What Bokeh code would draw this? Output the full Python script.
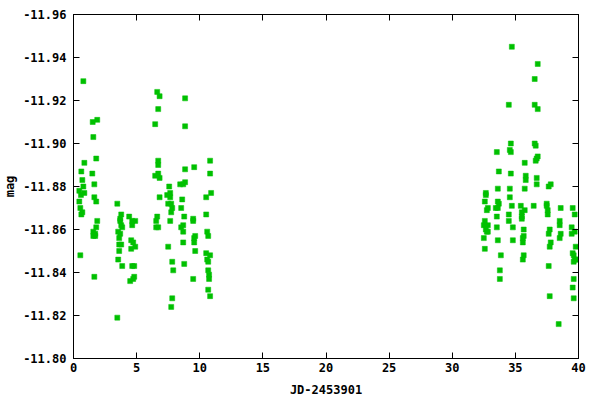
from bokeh.plotting import figure
from bokeh.models import Range1d, LinearAxis, FixedTicker, PrintfTickFormatter, ColumnDataSource
from bokeh.embed import file_html
from bokeh.resources import INLINE

# ---- data ----
jd_first = [0.78, 1.52, 1.88, 1.57, 1.80, 0.86, 0.62, 1.49, 0.70, 1.65, 0.78, 0.46, 0.86, 0.59,
            1.65, 0.46, 1.80, 0.54, 0.70, 0.62, 1.88, 1.80, 1.57, 1.72, 1.57, 1.72, 0.54, 1.65,
            3.47, 3.78, 3.70, 3.70, 3.78, 3.86, 3.54, 3.70, 3.62, 3.62, 3.78, 3.62, 3.54, 3.86, 3.47,
            4.41, 4.65, 4.89, 4.65, 4.57, 4.73, 4.89, 4.57, 4.65, 4.81, 4.81, 4.49, 4.73]
mag_first = [-11.929, -11.910, -11.911, -11.903, -11.893, -11.891, -11.887, -11.886, -11.883, -11.881,
             -11.880, -11.878, -11.877, -11.876, -11.875, -11.873, -11.873, -11.870, -11.868, -11.867,
             -11.864, -11.861, -11.859, -11.858, -11.857, -11.857, -11.848, -11.838,
             -11.872, -11.867, -11.865, -11.864, -11.862, -11.861, -11.859, -11.858, -11.856, -11.853,
             -11.853, -11.850, -11.846, -11.843, -11.819,
             -11.866, -11.864, -11.864, -11.862, -11.855, -11.854, -11.852, -11.851, -11.843, -11.843,
             -11.838, -11.836, -11.837]

jd_second = [6.63, 6.82, 6.71, 6.47, 6.71, 6.71, 6.47, 6.71, 6.82, 6.82, 6.63, 6.55, 6.55, 6.71,
             8.84, 8.84, 8.84, 9.56, 10.82, 10.82, 7.58, 8.45, 8.84, 8.69, 7.42, 7.66, 7.66, 8.61,
             10.90, 10.51, 7.50, 7.74, 7.82, 8.53, 7.74, 8.77, 10.51, 9.48, 9.48, 7.66, 8.69, 8.53,
             8.69, 10.59, 10.67, 9.64, 9.56, 9.56, 8.69, 7.50, 9.64, 10.51, 10.82, 10.59, 10.67, 7.82,
             8.77, 7.90, 10.67, 10.74, 10.74, 9.48, 10.67, 10.82, 7.82, 7.74]
mag_second = [-11.924, -11.922, -11.916, -11.909, -11.892, -11.890, -11.885, -11.886, -11.884, -11.875,
              -11.866, -11.864, -11.861, -11.861,
              -11.921, -11.908, -11.888, -11.889, -11.892, -11.886, -11.880, -11.881, -11.882, -11.881,
              -11.876, -11.877, -11.875, -11.874, -11.877, -11.875, -11.872, -11.872, -11.870, -11.870,
              -11.868, -11.866, -11.867, -11.865, -11.864, -11.864, -11.862, -11.861, -11.859, -11.859,
              -11.857, -11.857, -11.856, -11.854, -11.854, -11.852, -11.850, -11.849, -11.848, -11.846,
              -11.845, -11.845, -11.844, -11.841, -11.841, -11.839, -11.837, -11.837, -11.832, -11.829,
              -11.828, -11.824]

jd_third = [34.72, 36.77, 36.53, 34.48, 36.53, 36.77, 34.64, 36.53, 36.61, 34.56, 34.64, 33.53,
            36.77, 36.69, 36.61, 35.74, 33.69, 34.64, 35.82, 35.82, 36.69, 36.69, 37.80, 37.64,
            33.61, 34.56, 35.74, 32.66, 32.66, 34.56, 32.58, 33.61, 33.69, 32.82, 32.74, 33.45,
            33.61, 34.72, 35.43, 36.45, 37.48, 37.48, 37.56, 37.56, 38.59, 39.54, 39.70, 35.74,
            35.51, 35.51, 35.51, 34.48, 33.53, 34.48, 32.58, 32.50, 32.82, 32.66, 32.74, 32.82,
            32.50, 32.58, 33.53, 33.61, 34.80, 34.80, 35.66, 35.66, 35.59, 35.59, 33.85, 35.66,
            35.59, 33.77, 33.77, 37.72, 37.64, 37.80, 37.72, 37.64, 37.72, 38.51, 38.51, 38.59,
            38.51, 38.43, 39.46, 39.70, 39.46, 39.78, 39.54, 39.62, 39.70, 39.78, 39.62, 39.86,
            39.62, 39.54, 39.62]
mag_third = [-11.945, -11.937, -11.930, -11.918, -11.918, -11.916, -11.900, -11.900, -11.899, -11.897,
             -11.896, -11.896, -11.894, -11.893, -11.892, -11.891, -11.887, -11.886, -11.885, -11.883,
             -11.884, -11.881, -11.881, -11.880, -11.879, -11.879, -11.879, -11.877, -11.876, -11.875,
             -11.873, -11.873, -11.872, -11.870, -11.869, -11.870, -11.870, -11.871, -11.871, -11.871,
             -11.872, -11.871, -11.869, -11.867, -11.870, -11.870, -11.867, -11.869, -11.868, -11.866,
             -11.865, -11.867, -11.866, -11.864, -11.864, -11.862, -11.862, -11.860, -11.859, -11.859,
             -11.856, -11.851, -11.861, -11.855, -11.861, -11.855, -11.860, -11.857, -11.856, -11.854,
             -11.848, -11.848, -11.846, -11.841, -11.837, -11.860, -11.858, -11.854, -11.852, -11.843,
             -11.829, -11.864, -11.862, -11.858, -11.856, -11.816, -11.861, -11.859, -11.858, -11.852,
             -11.849, -11.848, -11.846, -11.846, -11.845, -11.846, -11.837, -11.833, -11.828]

x_ticks = [0, 5, 10, 15, 20, 25, 30, 35, 40]
y_ticks = [-11.96, -11.94, -11.92, -11.90, -11.88, -11.86, -11.84, -11.82, -11.80]
x_label = "JD-2453901"
y_label = "mag"

FONT = "DejaVu Sans Mono"
FS = "12px"

p = figure(width=584, height=384, output_backend="svg", toolbar_location=None,
           x_range=Range1d(0, 40), y_range=Range1d(-11.80, -11.96),
           min_border_left=65, min_border_right=14, min_border_top=14, min_border_bottom=26,
           x_axis_label=x_label, y_axis_label=y_label)
p.frame_width = 505
p.frame_height = 344
p.background_fill_color = "white"
p.border_fill_color = "white"
p.outline_line_color = "black"
p.outline_line_width = 1
p.xgrid.visible = False
p.ygrid.visible = False

src = ColumnDataSource(dict(x=jd_first + jd_second + jd_third,
                            y=mag_first + mag_second + mag_third))
p.scatter("x", "y", source=src, marker="square", size=5, fill_color="#00c000",
          line_color="#00c000", line_width=0.5)

for ax in (p.xaxis[0], p.yaxis[0]):
    ax.major_tick_in = 6
    ax.major_tick_out = 0
    ax.minor_tick_line_color = None
    ax.axis_line_color = "black"
    ax.major_tick_line_color = "black"
    ax.major_label_text_font = FONT
    ax.major_label_text_font_style = "bold"
    ax.major_label_text_font_size = FS
    ax.major_label_text_color = "black"
    ax.axis_label_text_font = FONT
    ax.axis_label_text_font_style = "bold"
    ax.axis_label_text_font_size = FS
    ax.axis_label_text_color = "black"

p.xaxis[0].ticker = FixedTicker(ticks=x_ticks)
p.yaxis[0].ticker = FixedTicker(ticks=y_ticks)
p.yaxis[0].formatter = PrintfTickFormatter(format="%.2f")
p.xaxis[0].major_label_standoff = 4
p.xaxis[0].axis_label_standoff = 8
p.yaxis[0].major_label_standoff = 7
p.yaxis[0].axis_label_standoff = 3

# mirrored ticks on top and right
top = LinearAxis(ticker=FixedTicker(ticks=x_ticks))
right = LinearAxis(ticker=FixedTicker(ticks=y_ticks))
for ax in (top, right):
    ax.major_tick_in = 6
    ax.major_tick_out = 0
    ax.minor_tick_line_color = None
    ax.major_label_text_font_size = "0px"
    ax.major_label_text_color = None
    ax.major_label_standoff = 0
    ax.axis_line_color = "black"
p.add_layout(top, "above")
p.add_layout(right, "right")

open("out.html", "w").write(file_html(p, INLINE))
